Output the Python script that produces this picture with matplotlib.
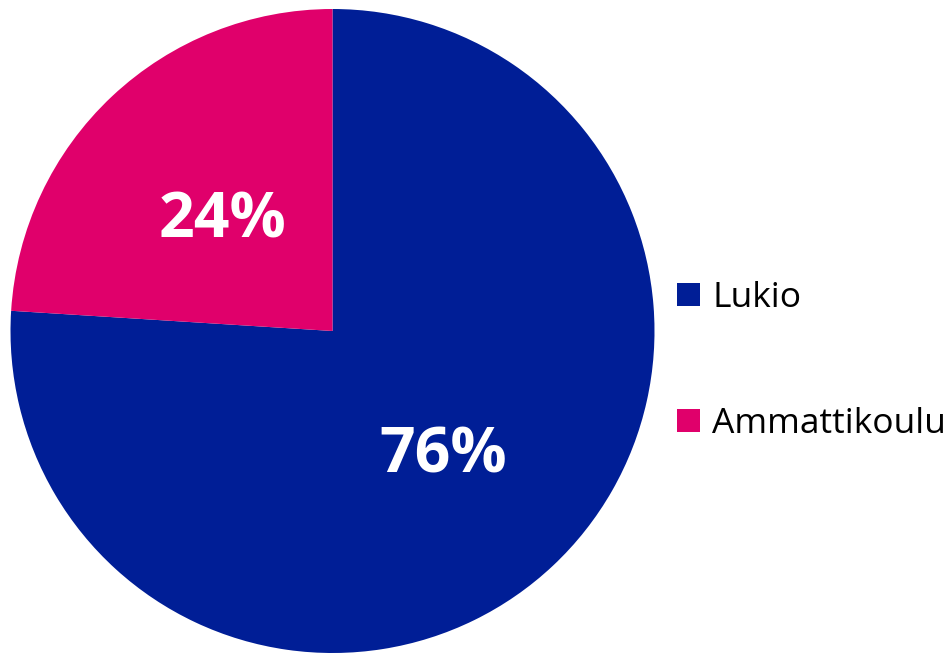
import matplotlib
matplotlib.use("Agg")
import matplotlib.pyplot as plt

# share of students by school type
labels = ["Lukio", "Ammattikoulu"]
shares = [76, 24]
colors = ["#001E96", "#E0006B"]

plt.rcParams['font.family'] = ['Open Sans', 'DejaVu Sans']

W, H = 949, 653
fig = plt.figure(figsize=(W / 100, H / 100), dpi=100)
ax = fig.add_axes([10 / W, 0, 645 / W, 644 / H])

wedges, texts, autotexts = ax.pie(
    shares, colors=colors, startangle=90, counterclock=False,
    autopct='%d%%', pctdistance=0.5, radius=1.0,
    wedgeprops=dict(linewidth=0),
    textprops=dict(color='white', fontsize=45, fontweight='bold'),
)
for t in autotexts:
    t.set_va('center_baseline')
ax.set_xlim(-1, 1)
ax.set_ylim(-1, 1)
ax.set_aspect('equal')

fig.legend(wedges, labels, loc='center left',
           bbox_to_anchor=(677 / W, 1 - 361 / H),
           frameon=False, fontsize=25.5, handlelength=0.65, handleheight=0.65,
           handletextpad=0.34, labelspacing=2.6, borderpad=0, borderaxespad=0)

fig.savefig("out.png", dpi=100)
